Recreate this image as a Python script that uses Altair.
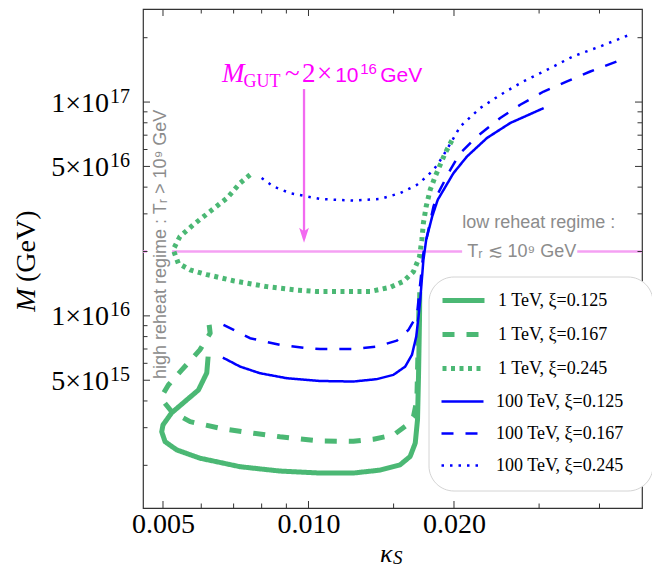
import math
import altair as alt
import pandas as pd

# ---------------- data ----------------
SERIES = ["1 TeV, ξ=0.125", "1 TeV, ξ=0.167", "1 TeV, ξ=0.245",
          "100 TeV, ξ=0.125", "100 TeV, ξ=0.167", "100 TeV, ξ=0.245"]

g125_k = [0.00620, 0.00616, 0.00592, 0.00551, 0.00521, 0.00500, 0.00497, 0.00505, 0.00534, 0.00596,
          0.00722, 0.00873, 0.01057, 0.01238, 0.01407, 0.01547, 0.01623, 0.01663, 0.01681, 0.01689,
          0.01697, 0.01699]
g125_M = [6.45e15, 5.41e15, 4.50e15, 3.92e15, 3.52e15, 3.09e15, 2.87e15, 2.58e15, 2.36e15, 2.16e15,
          1.97e15, 1.88e15, 1.84e15, 1.84e15, 1.90e15, 2.01e15, 2.20e15, 2.54e15, 3.26e15, 5.2e15,
          9.58e15, 1.29e16]

g167_k = [0.00623, 0.00626, 0.00596, 0.00547, 0.00513, 0.00499, 0.00498, 0.00521, 0.00569, 0.00656,
          0.00757, 0.00873, 0.01057, 0.01238, 0.01363, 0.01499, 0.01598, 0.01649, 0.01676, 0.01694]
g167_M = [9.08e15, 8.30e15, 6.93e15, 5.59e15, 4.75e15, 4.27e15, 4.05e15, 3.57e15, 3.20e15, 2.98e15,
          2.84e15, 2.72e15, 2.60e15, 2.59e15, 2.65e15, 2.77e15, 3.09e15, 3.38e15, 4.05e15, 1.19e16]

g245_k = [0.00757, 0.00722, 0.00678, 0.00626, 0.00578, 0.00542, 0.00525, 0.00538, 0.00569, 0.00616,
          0.00699, 0.00820, 0.00946, 0.01040, 0.01342, 0.01476, 0.01572, 0.01649, 0.01697, 0.01716,
          0.01729, 0.01752, 0.01786, 0.01829, 0.01873, 0.01918, 0.01983]
g245_M = [4.57e16, 4.18e16, 3.55e16, 3.08e16, 2.67e16, 2.35e16, 2.04e16, 1.76e16, 1.64e16, 1.56e16,
          1.46e16, 1.37e16, 1.32e16, 1.30e16, 1.30e16, 1.36e16, 1.45e16, 1.61e16, 1.89e16, 2.27e16,
          2.72e16, 3.25e16, 3.89e16, 4.49e16, 5.09e16, 5.77e16, 6.66e16]

b125_k = [0.00665, 0.00722, 0.00794, 0.00902, 0.01057, 0.01238, 0.01385, 0.01499, 0.01585, 0.01637,
          0.01671, 0.01689, 0.01703, 0.01729, 0.01752, 0.01803, 0.01851, 0.01995, 0.02127, 0.0234,
          0.02615, 0.03066]
b125_M = [6.38e15, 5.79e15, 5.39e15, 5.11e15, 4.96e15, 4.93e15, 5.06e15, 5.30e15, 5.79e15, 6.57e15,
          8.00e15, 9.92e15, 1.19e16, 1.83e16, 2.27e16, 2.92e16, 3.49e16, 4.65e16, 5.56e16, 6.79e16,
          7.98e16, 9.37e16]

b167_k = [0.00667, 0.00757, 0.00873, 0.00992, 0.01057, 0.01238, 0.01385, 0.01524, 0.0161, 0.01663,
          0.01681, 0.01703, 0.01729, 0.01771, 0.01814, 0.01855, 0.01965, 0.02061, 0.02231, 0.02493,
          0.02742, 0.03066, 0.03427, 0.03828, 0.04349]
b167_M = [9.08e15, 7.86e15, 7.32e15, 7.06e15, 6.99e15, 6.99e15, 7.18e15, 7.66e15, 8.60e15, 9.76e15,
          1.07e16, 1.42e16, 1.97e16, 2.53e16, 3.25e16, 3.75e16, 4.82e16, 5.77e16, 6.90e16, 8.42e16,
          9.71e16, 1.12e17, 1.25e17, 1.39e17, 1.55e17]

b245_k = [0.00800, 0.00846, 0.00916, 0.01057, 0.01238, 0.01407, 0.01547, 0.01676, 0.01758, 0.01814,
          0.01858, 0.01934, 0.02061, 0.02266, 0.02493, 0.02786, 0.03164, 0.03535, 0.04015, 0.04633]
b245_M = [4.41e16, 4.03e16, 3.75e16, 3.52e16, 3.46e16, 3.52e16, 3.75e16, 4.10e16, 4.49e16, 4.82e16,
          5.18e16, 6.0e16, 7.69e16, 9.37e16, 1.08e17, 1.25e17, 1.44e17, 1.64e17, 1.82e17, 2.07e17]

# axis ticks / labels
x_ticks = [0.005, 0.006, 0.007, 0.008, 0.009, 0.01, 0.015, 0.02, 0.03, 0.04]
x_major = [0.005, 0.01, 0.02]
y_ticks = [2e15, 3e15, 4e15, 5e15, 6e15, 7e15, 8e15, 9e15, 1e16, 2e16, 3e16, 4e16, 5e16,
           6e16, 7e16, 8e16, 9e16, 1e17, 2e17]
y_major = [5e15, 1e16, 5e16, 1e17]
y_major_mant = ["5", "1", "5", "1"]
y_major_exp = ["15", "16", "16", "17"]

# GUT scale line (segments broken behind the text boxes) and arrow
M_GUT = 2e16
gut_seg = [0, 0, 1, 1, 2, 2]
gut_k = [0.004546, 0.004633, 0.00522, 0.02079, 0.03598, 0.04898]
arrow_k = [0.00979]
arrow_top = [1.15e17]
arrow_bottom = [2.3e16]
arrow_head_M = [2.38e16]

# ---------------- styling ----------------
GREEN, BLUE = "#4bb874", "#0000ff"
DASHES = [[1, 0], [12, 12], [4, 4.5]]
DASHES_B = [[1, 0], [12, 12], [2.5, 6]]
SERIF = "Liberation Serif"
SANS = "Liberation Sans"
MAGENTA = "#ff00ff"
GRAY = "#8c8c8c"

W = H = 499
xs = alt.Scale(type="log", domain=[0.004546, 0.04898], nice=False)
ys = alt.Scale(type="log", domain=[1.263e15, 2.724e17], nice=False)

rows = []
for s, ks, ms in zip(SERIES,
                     [g125_k, g167_k, g245_k, b125_k, b167_k, b245_k],
                     [g125_M, g167_M, g245_M, b125_M, b167_M, b245_M]):
    for i, (k, m) in enumerate(zip(ks, ms)):
        rows.append({"series": s, "k": k, "M": m, "i": i})
curves = pd.DataFrame(rows)

XAX = alt.Axis(values=x_major, format=".3f", ticks=False, domain=False, grid=False, title=None,
               labelFont=SERIF, labelFontSize=28, labelColor="black", labelPadding=2)
YAX = alt.Axis(values=y_major, labels=False, ticks=False, domain=False, grid=False, title=None)


def X(field):
    return alt.X(field, scale=xs, axis=XAX, title=None)


def Y(field):
    return alt.Y(field, scale=ys, axis=YAX, title=None)


def make_legend(y, width):
    return alt.Legend(
        title=None, orient="none", legendX=297, legendY=y,
        symbolType="stroke", symbolSize=1764, symbolStrokeWidth=width,
        labelFont=SERIF, labelFontSize=18, labelColor="black", labelOffset=11, labelLimit=400,
        padding=0, rowPadding=0)


def curve_layer(names, color, dashes, width, legend_y):
    lg = make_legend(legend_y, width)
    return alt.Chart(curves[curves.series.isin(names)]).mark_line(
        clip=True, strokeCap="butt", strokeJoin="round", strokeWidth=width).encode(
        x=X("k:Q"), y=Y("M:Q"),
        color=alt.Color("series:N", scale=alt.Scale(domain=names, range=[color] * 3), legend=lg),
        strokeDash=alt.StrokeDash("series:N", scale=alt.Scale(domain=names, range=dashes), legend=lg),
        detail="series:N",
        order="i:Q",
    )


lines_g = curve_layer(SERIES[:3], GREEN, DASHES, 5, 268)
lines_b = curve_layer(SERIES[3:], BLUE, DASHES_B, 2.5, 370)

gut_df = pd.DataFrame({"seg": gut_seg, "k": gut_k, "M": [M_GUT] * len(gut_k)})
gut_line = alt.Chart(gut_df).mark_line(color="#f5a0f3", strokeWidth=2.5, clip=True).encode(
    x=X("k:Q"), y=Y("M:Q"), detail="seg:N")

arrow_df = pd.DataFrame({"k": arrow_k, "M": arrow_top, "M2": arrow_bottom, "Mh": arrow_head_M})
arrow = alt.Chart(arrow_df).mark_rule(color="#f26af0", strokeWidth=2.3).encode(
    x=X("k:Q"), y=Y("M:Q"), y2="M2:Q")
arrow_head = alt.Chart(arrow_df).mark_point(
    shape="M0,1L-0.65,-1L0,-0.55L0.65,-1Z", filled=True, size=225, color="#f26af0", opacity=1,
    strokeWidth=0).encode(x=X("k:Q"), y=Y("Mh:Q"))

xt = pd.DataFrame({"k": x_ticks, "len": [14 if v in x_major else 9 for v in x_ticks]})
yt = pd.DataFrame({"M": y_ticks, "len": [14 if v in y_major else 9 for v in y_ticks]})


def xtick(ypix):
    return alt.Chart(xt).mark_tick(clip=True, thickness=1, color="#333333", orient="vertical", opacity=1).encode(
        x=X("k:Q"), y=alt.value(ypix), size=alt.Size("len:Q", scale=None))


def ytick(xpix):
    return alt.Chart(yt).mark_tick(clip=True, thickness=1, color="#333333", orient="horizontal", opacity=1).encode(
        y=Y("M:Q"), x=alt.value(xpix), size=alt.Size("len:Q", scale=None))


# y tick labels: mantissa x 10 with a raised exponent
ylab = pd.DataFrame({"M": y_major, "base": [m + "×10" for m in y_major_mant], "exp": y_major_exp})
ylab_base = alt.Chart(ylab).mark_text(font=SERIF, fontSize=28, color="black", align="right",
                                      baseline="alphabetic", dy=9.5).encode(
    y=Y("M:Q"), x=alt.value(-34), text="base:N")
ylab_exp = alt.Chart(ylab).mark_text(font=SERIF, fontSize=20, color="black", align="left",
                                     baseline="alphabetic", dy=0.5).encode(
    y=Y("M:Q"), x=alt.value(-33), text="exp:N")


def text_layer(texts, ks, ms, font, size, color, style="normal", angle=0, align="left"):
    df = pd.DataFrame({"t": texts, "k": ks, "M": ms})
    return alt.Chart(df).mark_text(font=font, fontSize=size, fontStyle=style, color=color, align=align,
                                   baseline="alphabetic", angle=angle).encode(
        x=X("k:Q"), y=Y("M:Q"), text="t:N")


def pix_text(text, xpix, ypix, font, size, style="normal", angle=0, align="left"):
    return alt.Chart(pd.DataFrame({"t": [text]})).mark_text(
        font=font, fontSize=size, fontStyle=style, color="black", align=align, baseline="alphabetic",
        angle=angle).encode(x=alt.value(xpix), y=alt.value(ypix), text="t:N")


legend_box = alt.Chart(pd.DataFrame({"a": [0]})).mark_rect(
    fill="white", stroke="#d4d4d4", strokeWidth=1, cornerRadius=25).encode(
    x=alt.value(286), x2=alt.value(510), y=alt.value(268), y2=alt.value(482))

texts = [
    text_layer(["M"], [0.006626], [1.238e17], SERIF, 27, MAGENTA, style="italic"),
    text_layer(["GUT"], [0.00734], [1.179e17], SERIF, 18, MAGENTA),
    text_layer(["~", "2", "×"], [0.008946, 0.0097, 0.01042], [1.238e17] * 3, SERIF, 27, MAGENTA),
    text_layer(["10", "GeV"], [0.011355, 0.01407], [1.238e17, 1.238e17], SANS, 21, MAGENTA),
    text_layer(["16"], [0.01279], [1.357e17], SANS, 15, MAGENTA),
    text_layer(["low reheat regime :", "Tᵣ ≲ 10⁹ GeV"], [0.0208, 0.0213], [2.573e16, 1.894e16],
               SANS, 18, GRAY),
    text_layer(["high reheat regime : Tᵣ > 10⁹ GeV"], [0.005072], [2.161e16], SANS, 18, GRAY,
               angle=270, align="center"),
    pix_text("M", -108, 302.7, SERIF, 28, style="italic", angle=270),
    pix_text("(GeV)", -108, 273, SERIF, 28, angle=270),
    pix_text("κ", 237, 553, SERIF, 26, style="italic"),
    pix_text("S", 250, 555, SERIF, 19, style="italic"),
]

chart = alt.layer(
    gut_line, arrow, arrow_head,
    xtick(H), xtick(0), ytick(0), ytick(W),
    lines_g, lines_b, legend_box, ylab_base, ylab_exp, *texts,
).resolve_scale(color="independent", strokeDash="independent").properties(
    width=W, height=H,
    autosize=alt.AutoSizeParams(type="none"),
    padding={"left": 135, "top": 1, "right": 10, "bottom": 61},
).configure_view(stroke="#333333", strokeWidth=1.2)

chart.save("out.html", embed_options={"renderer": "svg", "actions": False})
